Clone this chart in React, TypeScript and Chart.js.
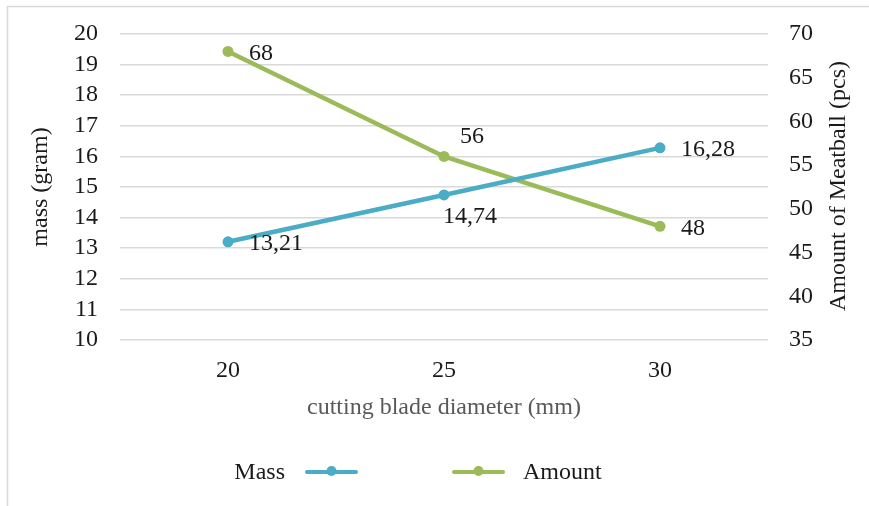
import React, { useEffect, useRef } from 'react';
import { Chart, registerables } from 'chart.js';

Chart.register(...registerables);

const categories = ['20', '25', '30'];
const massValues = [13.21, 14.74, 16.28];
const amountValues = [68, 56, 48];
const massLabelPlacement = ['right', 'below', 'right'];
const amountLabelPlacement = ['right', 'above', 'right'];
const leftTitle = 'mass (gram)';
const rightTitle = 'Amount of Meatball (pcs)';
const xTitle = 'cutting blade diameter (mm)';

const FAMILY = "'Liberation Serif', 'Times New Roman', serif";
const SIZE = 24;
const FONT = { family: FAMILY, size: SIZE };
const TICK_FONT = { family: FAMILY, size: SIZE, lineHeight: 1 };
const TEXT = '#1a1a1a';
const BLUE = '#4BACC6';
const GREEN = '#9BBB59';
const GRID = '#d9d9d9';

const fmt = (v: number, dsIndex: number) =>
  dsIndex === 0 ? v.toFixed(2).replace('.', ',') : String(v);

const extrasPlugin = {
  id: 'extras',
  beforeDraw(chart: any) {
    const { ctx } = chart;
    ctx.save();
    ctx.strokeStyle = GRID;
    ctx.lineWidth = 1.5;
    ctx.strokeRect(7.5, 6.5, 2000, 2000);
    ctx.restore();
  },
  afterDatasetsDraw(chart: any) {
    const { ctx } = chart;
    const placements = [massLabelPlacement, amountLabelPlacement];
    ctx.save();
    ctx.font = `${SIZE}px ${FAMILY}`;
    ctx.fillStyle = TEXT;
    chart.data.datasets.forEach((ds: any, di: number) => {
      const meta = chart.getDatasetMeta(di);
      meta.data.forEach((pt: any, i: number) => {
        const txt = fmt(ds.data[i], di);
        const pl = placements[di][i];
        ctx.textBaseline = 'middle';
        if (pl === 'right') {
          ctx.textAlign = 'left';
          ctx.fillText(txt, pt.x + 21, pt.y + 2);
        } else if (pl === 'above') {
          ctx.textAlign = 'center';
          ctx.fillText(txt, pt.x + 28, pt.y - 20);
        } else {
          ctx.textAlign = 'center';
          ctx.fillText(txt, pt.x + 26, pt.y + 22);
        }
      });
    });
    ctx.restore();
  },
  afterDraw(chart: any) {
    const { ctx, chartArea } = chart;
    const y1 = chart.scales.y1;
    ctx.save();
    ctx.font = `${SIZE}px ${FAMILY}`;
    ctx.fillStyle = TEXT;
    ctx.textAlign = 'center';
    ctx.textBaseline = 'middle';
    ctx.translate(y1.right - 30, (chartArea.top + chartArea.bottom) / 2 - 1);
    ctx.rotate(-Math.PI / 2);
    ctx.fillText(rightTitle, 0, 0);
    ctx.restore();

    ctx.save();
    ctx.font = `${SIZE}px ${FAMILY}`;
    ctx.textBaseline = 'middle';
    const ly = 472;
    const ds = chart.data.datasets;
    const drawMarker = (x0: number, x1: number, color: string) => {
      ctx.strokeStyle = color;
      ctx.lineWidth = 4;
      ctx.lineCap = 'round';
      ctx.beginPath();
      ctx.moveTo(x0, ly);
      ctx.lineTo(x1, ly);
      ctx.stroke();
      ctx.fillStyle = color;
      ctx.beginPath();
      ctx.arc((x0 + x1) / 2, ly - 1, 5, 0, Math.PI * 2);
      ctx.fill();
    };
    ctx.fillStyle = TEXT;
    ctx.textAlign = 'right';
    ctx.fillText(ds[0].label, 285, ly + 1);
    drawMarker(307, 356, ds[0].borderColor);
    drawMarker(454, 503, ds[1].borderColor);
    ctx.fillStyle = TEXT;
    ctx.textAlign = 'left';
    ctx.fillText(ds[1].label, 523, ly + 1);
    ctx.restore();
  },
};

export default function App() {
  const ref = useRef<HTMLCanvasElement | null>(null);

  useEffect(() => {
    if (!ref.current) return;
    const chart = new Chart(ref.current, {
      type: 'line',
      data: {
        labels: categories,
        datasets: [
          {
            label: 'Mass',
            data: massValues,
            yAxisID: 'y',
            borderColor: BLUE,
            backgroundColor: BLUE,
            pointBackgroundColor: BLUE,
            pointBorderColor: BLUE,
            pointBorderWidth: 0,
            borderWidth: 4.5,
            pointRadius: 5.5,
            tension: 0,
          },
          {
            label: 'Amount',
            data: amountValues,
            yAxisID: 'y1',
            borderColor: GREEN,
            backgroundColor: GREEN,
            pointBackgroundColor: GREEN,
            pointBorderColor: GREEN,
            pointBorderWidth: 0,
            borderWidth: 4.5,
            pointRadius: 5.5,
            tension: 0,
          },
        ],
      },
      options: {
        responsive: false,
        animation: false,
        layout: { padding: { top: 32, left: 0, right: 0, bottom: 0 } },
        plugins: {
          legend: { display: false },
          tooltip: { enabled: false },
        },
        scales: {
          x: {
            offset: true,
            grid: { display: false },
            border: { display: false },
            ticks: { font: TICK_FONT, color: TEXT, padding: 11 },
            title: {
              display: true,
              text: xTitle,
              color: '#595959',
              font: FONT,
              padding: { top: 0, bottom: 84 },
            },
            afterFit: (s: any) => {
              s.height = 166;
            },
          },
          y: {
            position: 'left',
            min: 10,
            max: 20,
            ticks: { stepSize: 1, autoSkip: false, font: TICK_FONT, color: TEXT, padding: 22 },
            grid: { color: GRID, drawTicks: false, lineWidth: 1.5 },
            border: { display: false },
            title: {
              display: true,
              text: leftTitle,
              color: TEXT,
              font: FONT,
              padding: { top: 26, bottom: 0 },
            },
            afterFit: (s: any) => {
              s.width = 120;
            },
          },
          y1: {
            position: 'right',
            min: 35,
            max: 70,
            ticks: { stepSize: 5, autoSkip: false, font: TICK_FONT, color: TEXT, padding: 21 },
            grid: { display: false, drawTicks: false },
            border: { display: false },
            afterFit: (s: any) => {
              s.width = 101;
            },
          },
        },
      } as any,
      plugins: [extrasPlugin],
    });
    return () => chart.destroy();
  }, []);

  return (
    <div style={{ position: 'fixed', left: 0, top: 0, width: 869, height: 506, background: '#fff' }}>
      <canvas ref={ref} width={869} height={506} style={{ display: 'block' }} />
    </div>
  );
}
